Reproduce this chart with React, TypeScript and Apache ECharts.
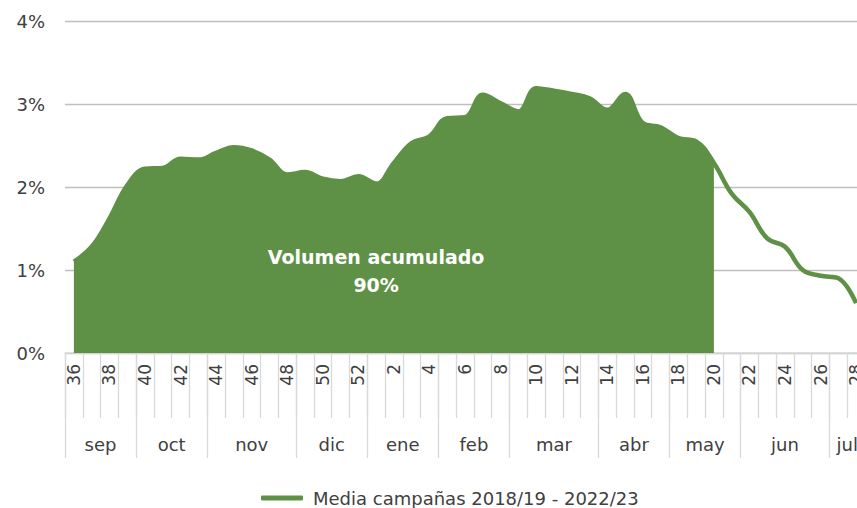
import React, { useEffect, useRef } from "react";
import * as echarts from "echarts";

const weeks = [
  "36", "37", "38", "39", "40", "41", "42", "43", "44", "45", "46", "47", "48", "49", "50", "51", "52",
  "1", "2", "3", "4", "5", "6", "7", "8", "9", "10", "11", "12", "13", "14", "15", "16", "17", "18", "19", "20",
  "21", "22", "23", "24", "25", "26", "27", "28",
];
const values = [
  1.1, 1.28, 1.62, 2.02, 2.22, 2.23, 2.34, 2.33, 2.41, 2.48, 2.44, 2.33, 2.15, 2.18, 2.1, 2.07, 2.13,
  2.04, 2.29, 2.53, 2.61, 2.83, 2.84, 3.11, 3.01, 2.91, 3.19, 3.16, 3.12, 3.07, 2.93, 3.12, 2.77, 2.72, 2.59, 2.55, 2.29,
  1.92, 1.7, 1.38, 1.28, 1.0, 0.93, 0.9, 0.6,
];
const accumulatedUntilWeek = "20";
const months = ["sep", "oct", "nov", "dic", "ene", "feb", "mar", "abr", "may", "jun", "jul"];
const monthWeekCounts = [4, 4, 5, 4, 4, 4, 5, 4, 4, 5, 2];
const yMin = 0;
const yMax = 4;
const yStep = 1;
const seriesName = "Media campañas 2018/19 - 2022/23";
const annotationText = "Volumen acumulado\n90%";
const annotationWeek = "1";
const annotationValue = 0.99;

const GREEN = "#5E9145";
const TEXT = "#404040";
const FONT = "DejaVu Sans";

export default function App() {
  const ref = useRef<HTMLDivElement>(null);

  useEffect(() => {
    if (!ref.current) return;
    const chart = echarts.init(ref.current, undefined, { renderer: "svg" });

    const boundaries: number[] = [0];
    monthWeekCounts.forEach((c) => boundaries.push(boundaries[boundaries.length - 1] + c));
    const centers = months.map((_, i) => (boundaries[i] + boundaries[i + 1]) / 2);
    const lastIdx = weeks.indexOf(accumulatedUntilWeek);
    const areaData = values.map((v, i) => (i <= lastIdx ? v : null));

    chart.setOption({
      animation: false,
      textStyle: { fontFamily: FONT },
      grid: { left: 65, top: 21, width: 800, height: 332, containLabel: false },
      legend: {
        data: [seriesName],
        left: 256,
        top: 484,
        icon: "roundRect",
        itemWidth: 42,
        itemHeight: 5,
        textStyle: { fontFamily: FONT, fontSize: 18, color: TEXT, padding: [0, 0, 0, 5] },
      },
      xAxis: [
        {
          type: "category",
          data: weeks,
          boundaryGap: true,
          axisLine: { show: true, lineStyle: { color: "#D9D9D9", width: 1.5 } },
          axisTick: { show: true, interval: 0, length: 65, lineStyle: { color: "#D9D9D9", width: 1.3 } },
          axisLabel: {
            interval: 1,
            rotate: 90,
            margin: 11,
            fontFamily: FONT,
            fontSize: 17,
            color: TEXT,
          },
          splitLine: { show: false },
        },
        {
          type: "value",
          min: 0,
          max: weeks.length,
          position: "bottom",
          axisLine: { show: false },
          splitLine: { show: false },
          axisTick: {
            show: true,
            customValues: boundaries,
            length: 105,
            lineStyle: { color: "#D9D9D9", width: 1.3 },
          },
          axisLabel: {
            show: true,
            customValues: centers,
            margin: 82,
            fontFamily: FONT,
            fontSize: 18,
            color: TEXT,
            formatter: (v: number) => {
              const i = centers.indexOf(v);
              return i >= 0 ? months[i] : "";
            },
          },
        },
      ],
      yAxis: {
        type: "value",
        min: yMin,
        max: yMax,
        interval: yStep,
        axisLine: { show: false },
        axisTick: { show: false },
        axisLabel: { formatter: "{value}%", margin: 20, fontFamily: FONT, fontSize: 18, color: TEXT },
        splitLine: { lineStyle: { color: "#BFBFBF", width: 1.3 } },
      },
      series: [
        {
          name: "Volumen acumulado",
          type: "line",
          xAxisIndex: 0,
          data: areaData,
          smooth: 0.4,
          symbol: "none",
          lineStyle: { width: 0 },
          itemStyle: { color: GREEN },
          areaStyle: { color: GREEN, opacity: 1 },
          markPoint: {
            symbol: "circle",
            symbolSize: 0,
            data: [{ coord: [annotationWeek, annotationValue] }],
            label: {
              show: true,
              position: "inside",
              formatter: annotationText,
              color: "#FFFFFF",
              fontFamily: FONT,
              fontWeight: "bold",
              fontSize: 19,
              lineHeight: 28,
              align: "center",
            },
          },
        },
        {
          name: seriesName,
          type: "line",
          xAxisIndex: 0,
          data: values,
          smooth: 0.4,
          symbol: "none",
          lineStyle: { color: GREEN, width: 4.5 },
          itemStyle: { color: GREEN },
        },
      ],
    });

    return () => chart.dispose();
  }, []);

  return (
    <div style={{ position: "fixed", left: 0, top: 0, width: 857, height: 508, overflow: "hidden", background: "#fff" }}>
      <div ref={ref} style={{ width: 880, height: 508 }} />
    </div>
  );
}
